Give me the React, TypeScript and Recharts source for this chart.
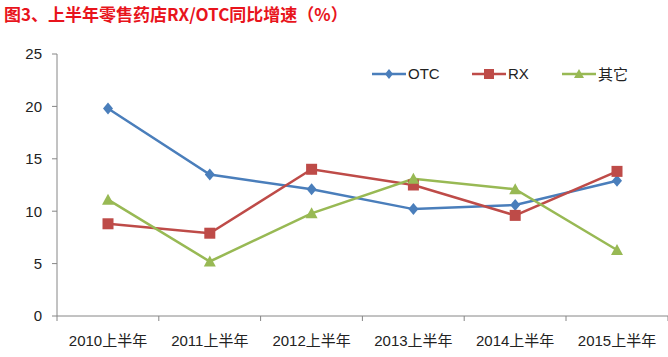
import React from "react";
import {
  LineChart,
  Line,
  XAxis,
  YAxis,
} from "recharts";

const categories = [
  "2010上半年",
  "2011上半年",
  "2012上半年",
  "2013上半年",
  "2014上半年",
  "2015上半年",
];
const otc = [19.8, 13.5, 12.1, 10.2, 10.6, 12.9];
const rx = [8.8, 7.9, 14.0, 12.5, 9.6, 13.8];
const other = [11.1, 5.2, 9.8, 13.1, 12.1, 6.3];
const yTicks = [0, 5, 10, 15, 20, 25];

const data = categories.map((name, i) => ({
  name,
  OTC: otc[i],
  RX: rx[i],
  其它: other[i],
}));

const FONT = "'Liberation Sans', 'Noto Sans CJK SC', sans-serif";
const AXIS = "#868686";
const BLUE = "#4a7ebb";
const RED = "#be4b48";
const GREEN = "#98b954";
const HALF = 51; // half the category width, for tick marks between categories

const Diamond = (props: any) => {
  const { cx, cy } = props;
  if (cx == null || cy == null) return null;
  return <path d={`M${cx},${cy - 6}L${cx + 5},${cy}L${cx},${cy + 6}L${cx - 5},${cy}Z`} fill={BLUE} />;
};
const Square = (props: any) => {
  const { cx, cy } = props;
  if (cx == null || cy == null) return null;
  return <rect x={cx - 5.5} y={cy - 5.5} width={11} height={11} fill={RED} />;
};
const Triangle = (props: any) => {
  const { cx, cy } = props;
  if (cx == null || cy == null) return null;
  return <path d={`M${cx},${cy - 6}L${cx + 6},${cy + 5}L${cx - 6},${cy + 5}Z`} fill={GREEN} />;
};

const CategoryTick = (props: any) => {
  const { x, y, payload, index } = props;
  return (
    <g>
      <line x1={x - HALF} y1={y - 8} x2={x - HALF} y2={y - 3} stroke={AXIS} />
      {index === categories.length - 1 && (
        <line x1={x + HALF} y1={y - 8} x2={x + HALF} y2={y - 3} stroke={AXIS} />
      )}
      <text x={x} y={y + 22} textAnchor="middle" fontSize={15} fill="#222" fontFamily={FONT}>
        {payload.value}
      </text>
    </g>
  );
};

const legendItems = [
  { name: "OTC", color: BLUE, shape: "diamond", width: 100 },
  { name: "RX", color: RED, shape: "square", width: 90 },
  { name: "其它", color: GREEN, shape: "triangle", width: 80 },
];

const LegendBox = () => (
  <div
    style={{
      position: "absolute",
      left: 372,
      top: 63,
      display: "flex",
      fontFamily: FONT,
      fontSize: 15,
      color: "#222",
    }}
  >
    {legendItems.map((item) => (
      <div key={item.name} style={{ display: "flex", alignItems: "center", width: item.width }}>
        <svg width={34} height={14}>
          <line x1={0} y1={7} x2={34} y2={7} stroke={item.color} strokeWidth={2.5} />
          {item.shape === "diamond" && <path d="M17,2L21,7L17,12L13,7Z" fill={item.color} />}
          {item.shape === "square" && <rect x={12} y={2} width={10} height={10} fill={item.color} />}
          {item.shape === "triangle" && <path d="M17,2L22,11L12,11Z" fill={item.color} />}
        </svg>
        <span style={{ marginLeft: 2 }}>{item.name}</span>
      </div>
    ))}
  </div>
);

export default function App() {
  return (
    <div style={{ position: "absolute", left: 0, top: 0, width: 668, height: 357, background: "#fff" }}>
      <div
        style={{
          position: "absolute",
          left: 4,
          top: 1,
          fontFamily: "'Noto Sans CJK SC', sans-serif",
          fontWeight: 700,
          fontSize: 17,
          color: "#e8141c",
          zIndex: 2,
        }}
      >
        图3、上半年零售药店RX/OTC同比增速（%）
      </div>
      <LineChart
        width={668}
        height={357}
        data={data}
        margin={{ top: 54, right: 0, left: 0, bottom: 0 }}
      >
        <XAxis
          dataKey="name"
          height={41}
          padding={{ left: HALF, right: HALF }}
          axisLine={{ stroke: AXIS }}
          tickLine={false}
          tick={<CategoryTick />}
          interval={0}
        />
        <YAxis
          width={57}
          domain={[0, 25]}
          ticks={yTicks}
          axisLine={{ stroke: AXIS }}
          tickLine={{ stroke: AXIS }}
          tickSize={5}
          tick={{ fontSize: 15, fill: "#222", fontFamily: FONT }}
          tickMargin={10}
        />
        <Line dataKey="OTC" stroke={BLUE} strokeWidth={2.5} dot={<Diamond />} isAnimationActive={false} />
        <Line dataKey="RX" stroke={RED} strokeWidth={2.5} dot={<Square />} isAnimationActive={false} />
        <Line dataKey="其它" stroke={GREEN} strokeWidth={2.5} dot={<Triangle />} isAnimationActive={false} />
      </LineChart>
      <LegendBox />
    </div>
  );
}
